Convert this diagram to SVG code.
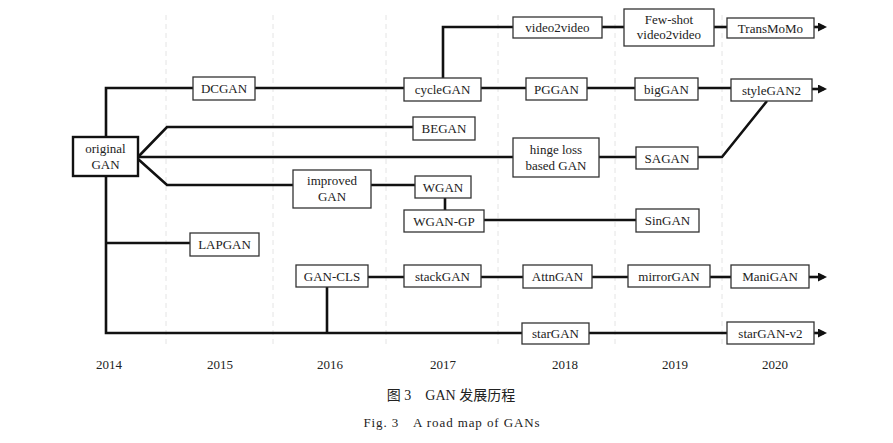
<svg xmlns="http://www.w3.org/2000/svg" width="893" height="443" viewBox="0 0 893 443">
<style>
.bx{fill:#fff;stroke:#333;stroke-width:1.3}
.t{font-family:"Liberation Serif","Times New Roman",serif;font-size:13px;fill:#222;text-anchor:middle}
.yr{font-family:"Liberation Serif","Times New Roman",serif;font-size:13px;fill:#222;text-anchor:middle}
.c{fill:none;stroke:#111;stroke-width:2.6;stroke-linejoin:miter}
.g{stroke:#e4e4e4;stroke-width:1;stroke-dasharray:5 4}
</style>
<defs>
<marker id="ar" markerWidth="9" markerHeight="9" refX="6" refY="4.5" orient="auto" markerUnits="userSpaceOnUse">
<path d="M0,0 L9,4.5 L0,9 Z" fill="#111"/>
</marker>
</defs>
<rect width="893" height="443" fill="#fff"/>
<g id="grid">
<line class="g" x1="166" y1="15" x2="166" y2="345"/>
<line class="g" x1="273" y1="15" x2="273" y2="345"/>
<line class="g" x1="386" y1="15" x2="386" y2="345"/>
<line class="g" x1="498" y1="15" x2="498" y2="345"/>
<line class="g" x1="615" y1="15" x2="615" y2="345"/>
<line class="g" x1="722" y1="15" x2="722" y2="345"/>
</g>
<g id="connectors">
<polyline class="c" points="106,137 106,88 193,88"/>
<line class="c" x1="255" y1="88" x2="404" y2="88"/>
<line class="c" x1="481" y1="88" x2="526" y2="88"/>
<line class="c" x1="587" y1="88" x2="635" y2="88"/>
<line class="c" x1="698" y1="88" x2="731" y2="88"/>
<line class="c" x1="812" y1="89" x2="824" y2="89" marker-end="url(#ar)"/>
<polyline class="c" points="443,78 443,27 513,27"/>
<line class="c" x1="602" y1="27" x2="624" y2="27"/>
<line class="c" x1="714" y1="27" x2="727" y2="27"/>
<line class="c" x1="814" y1="27" x2="824" y2="27" marker-end="url(#ar)"/>
<polyline class="c" points="138,157 167,127 413,127"/>
<line class="c" x1="138" y1="157" x2="513" y2="157"/>
<line class="c" x1="599" y1="157" x2="636" y2="157"/>
<polyline class="c" points="698,157 722,157 767,101"/>
<polyline class="c" points="138,159 167,185 293,185"/>
<line class="c" x1="371" y1="185" x2="415" y2="185"/>
<line class="c" x1="445" y1="198" x2="445" y2="210"/>
<line class="c" x1="484" y1="220" x2="636" y2="220"/>
<polyline class="c" points="106,176 106,333 522,333"/>
<line class="c" x1="106" y1="243" x2="190" y2="243"/>
<line class="c" x1="327" y1="287" x2="327" y2="333"/>
<line class="c" x1="589" y1="333" x2="727" y2="333"/>
<line class="c" x1="814" y1="333" x2="824" y2="333" marker-end="url(#ar)"/>
<line class="c" x1="368" y1="277" x2="404" y2="277"/>
<line class="c" x1="481" y1="277" x2="523" y2="277"/>
<line class="c" x1="592" y1="277" x2="628" y2="277"/>
<line class="c" x1="710" y1="277" x2="731" y2="277"/>
<line class="c" x1="809" y1="277" x2="824" y2="277" marker-end="url(#ar)"/>
</g>
<g id="originalGAN"><rect class="bx" x="73" y="137" width="65" height="39" style="stroke:#111;stroke-width:2.4"/><text class="t" x="105.5" y="153">original</text><text class="t" x="105.5" y="169">GAN</text></g>
<g id="DCGAN"><rect class="bx" x="193" y="77" width="62" height="23"/><text class="t" x="224" y="93">DCGAN</text></g>
<g id="cycleGAN"><rect class="bx" x="404" y="78" width="77" height="23"/><text class="t" x="442.5" y="94">cycleGAN</text></g>
<g id="PGGAN"><rect class="bx" x="526" y="78" width="61" height="22"/><text class="t" x="556.5" y="93.5">PGGAN</text></g>
<g id="bigGAN"><rect class="bx" x="635" y="78" width="63" height="22"/><text class="t" x="666.5" y="93.5">bigGAN</text></g>
<g id="styleGAN2"><rect class="bx" x="731" y="79" width="81" height="22"/><text class="t" x="771.5" y="94.5">styleGAN2</text></g>
<g id="video2video"><rect class="bx" x="513" y="17" width="89" height="21"/><text class="t" x="557.5" y="32">video2video</text></g>
<g id="fewshot"><rect class="bx" x="624" y="9" width="90" height="37"/><text class="t" x="669" y="24">Few-shot</text><text class="t" x="669" y="39">video2video</text></g>
<g id="TransMoMo"><rect class="bx" x="727" y="18" width="87" height="20"/><text class="t" x="770.5" y="32.5">TransMoMo</text></g>
<g id="BEGAN"><rect class="bx" x="413" y="117" width="62" height="23"/><text class="t" x="444" y="133">BEGAN</text></g>
<g id="hinge"><rect class="bx" x="513" y="138" width="86" height="39"/><text class="t" x="556" y="154">hinge loss</text><text class="t" x="556" y="170">based GAN</text></g>
<g id="SAGAN"><rect class="bx" x="636" y="147" width="62" height="22"/><text class="t" x="667" y="162.5">SAGAN</text></g>
<g id="improvedGAN"><rect class="bx" x="293" y="170" width="78" height="38"/><text class="t" x="332" y="185">improved</text><text class="t" x="332" y="201">GAN</text></g>
<g id="WGAN"><rect class="bx" x="415" y="176" width="56" height="22"/><text class="t" x="443" y="191.5">WGAN</text></g>
<g id="WGANGP"><rect class="bx" x="404" y="210" width="80" height="22"/><text class="t" x="444" y="225.5">WGAN-GP</text></g>
<g id="SinGAN"><rect class="bx" x="636" y="209" width="63" height="23"/><text class="t" x="667.5" y="225">SinGAN</text></g>
<g id="LAPGAN"><rect class="bx" x="190" y="233" width="69" height="23"/><text class="t" x="224.5" y="249">LAPGAN</text></g>
<g id="GANCLS"><rect class="bx" x="296" y="265" width="72" height="22"/><text class="t" x="332" y="280.5">GAN-CLS</text></g>
<g id="stackGAN"><rect class="bx" x="404" y="265" width="77" height="22"/><text class="t" x="442.5" y="280.5">stackGAN</text></g>
<g id="AttnGAN"><rect class="bx" x="523" y="265" width="69" height="23"/><text class="t" x="557.5" y="281">AttnGAN</text></g>
<g id="mirrorGAN"><rect class="bx" x="628" y="265" width="82" height="22"/><text class="t" x="669" y="280.5">mirrorGAN</text></g>
<g id="ManiGAN"><rect class="bx" x="731" y="265" width="78" height="23"/><text class="t" x="770" y="281">ManiGAN</text></g>
<g id="starGAN"><rect class="bx" x="522" y="323" width="67" height="21"/><text class="t" x="555.5" y="338">starGAN</text></g>
<g id="starGANv2"><rect class="bx" x="727" y="322" width="87" height="22"/><text class="t" x="770.5" y="337.5">starGAN-v2</text></g>
<g id="years">
<text class="yr" x="109" y="369">2014</text>
<text class="yr" x="220" y="369">2015</text>
<text class="yr" x="330" y="369">2016</text>
<text class="yr" x="443" y="369">2017</text>
<text class="yr" x="565" y="369">2018</text>
<text class="yr" x="675" y="369">2019</text>
<text class="yr" x="775" y="369">2020</text>
</g>
<g id="caption">
<text x="451" y="400" style="font-family:'Liberation Serif','Noto Sans CJK SC',serif;font-size:14px;fill:#222;text-anchor:middle">图 3　GAN 发展历程</text>
<text x="452" y="427" style="font-family:'Liberation Serif',serif;font-size:13px;letter-spacing:0.9px;fill:#222;text-anchor:middle">Fig. 3　A road map of GANs</text>
</g>
</svg>
